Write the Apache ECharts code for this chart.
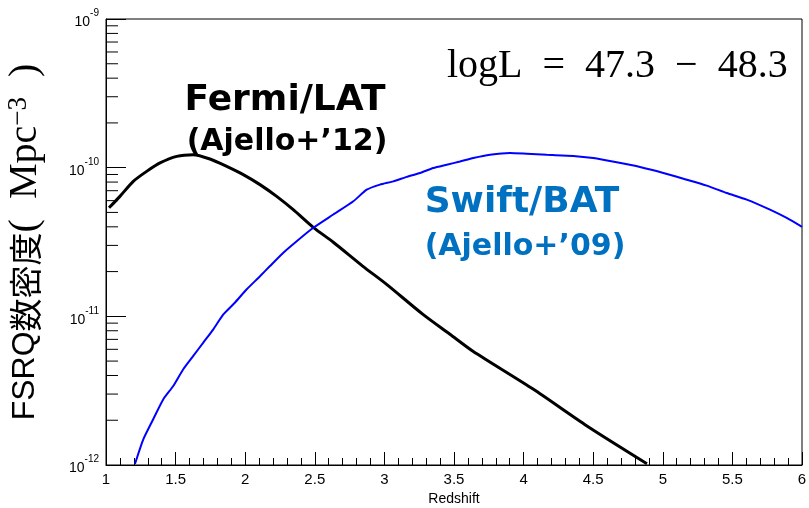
<!DOCTYPE html>
<html>
<head>
<meta charset="utf-8">
<script src="https://cdn.jsdelivr.net/npm/echarts@6/dist/echarts.min.js"></script>
<style>html,body{margin:0;padding:0;background:#fff;}#c{width:809px;height:508px;}</style>
</head>
<body>
<div id="c"></div>
<script>
// ---- data ----
const fermiZ = [1.022, 1.100, 1.196, 1.292, 1.388, 1.508, 1.626, 1.747, 1.867, 1.986, 2.106, 2.226, 2.345, 2.489, 2.633, 2.846, 3.016, 3.277, 3.471, 3.636, 4.068, 4.455, 4.886];
const fermiDensity = [5.37e-11, 6.41e-11, 8.09e-11, 9.44e-11, 1.076e-10, 1.191e-10, 1.222e-10, 1.143e-10, 1.020e-10, 8.98e-11, 7.69e-11, 6.41e-11, 5.22e-11, 3.97e-11, 3.15e-11, 2.17e-11, 1.64e-11, 1.03e-11, 7.57e-12, 5.82e-12, 3.24e-12, 1.83e-12, 1.02e-12];
const swiftZ = [1.208, 1.268, 1.340, 1.412, 1.483, 1.555, 1.627, 1.699, 1.771, 1.843, 1.927, 2.011, 2.106, 2.178, 2.274, 2.370, 2.489, 2.633, 2.777, 2.873, 2.968, 3.064, 3.160, 3.256, 3.351, 3.448, 3.543, 3.639, 3.759, 3.902, 4.022, 4.166, 4.357, 4.501, 4.669, 4.836, 5.004, 5.172, 5.316, 5.459, 5.603, 5.770, 5.890, 6.0];
const swiftDensity = [1.016e-12, 1.49e-12, 2.04e-12, 2.77e-12, 3.40e-12, 4.41e-12, 5.42e-12, 6.66e-12, 8.18e-12, 1.03e-11, 1.24e-11, 1.52e-11, 1.86e-11, 2.18e-11, 2.68e-11, 3.20e-11, 3.94e-11, 4.84e-11, 5.94e-11, 7.11e-11, 7.69e-11, 8.09e-11, 8.67e-11, 9.21e-11, 9.95e-11, 1.047e-10, 1.10e-10, 1.16e-10, 1.22e-10, 1.255e-10, 1.24e-10, 1.22e-10, 1.20e-10, 1.16e-10, 1.086e-10, 1.01e-10, 9.21e-11, 8.30e-11, 7.57e-11, 6.76e-11, 6.10e-11, 5.22e-11, 4.59e-11, 4.0e-11];
const xTickLabels = ['1', '1.5', '2', '2.5', '3', '3.5', '4', '4.5', '5', '5.5', '6'];
const yMinorTicks = [2e-12, 3e-12, 4e-12, 5e-12, 6e-12, 7e-12, 8e-12, 9e-12,
                     2e-11, 3e-11, 4e-11, 5e-11, 6e-11, 7e-11, 8e-11, 9e-11,
                     2e-10, 3e-10, 4e-10, 5e-10, 6e-10, 7e-10, 8e-10, 9e-10];
const xMin = 1, xMax = 6, yMin = 1e-12, yMax = 1e-9;

const chart = echarts.init(document.getElementById('c'), null, {renderer: 'canvas'});
const zip = (a, b) => a.map((v, i) => [v, b[i]]);

const option = {
  animation: false,
  backgroundColor: '#fff',
  grid: {left: 106, right: 7, top: 19, bottom: 43, show: true, borderColor: '#000', borderWidth: 1,
         containLabel: false, outerBoundsMode: 'none'},
  xAxis: {
    type: 'value', min: xMin, max: xMax, interval: 0.5,
    name: 'Redshift', nameLocation: 'middle', nameGap: 25,
    nameTextStyle: {fontFamily: 'Liberation Sans', fontSize: 14, color: '#000'},
    axisLine: {lineStyle: {color: '#000', width: 1}},
    axisTick: {inside: true, length: 13, lineStyle: {color: '#000'}},
    minorTick: {show: true, splitNumber: 5, length: 7, lineStyle: {color: '#000'}},
    splitLine: {show: false},
    axisLabel: {
      margin: 7, fontFamily: 'Liberation Sans', fontSize: 15, color: '#000',
      formatter: v => { const i = Math.round((v - xMin) / 0.5); return xTickLabels[i] !== undefined ? xTickLabels[i] : ''; }
    }
  },
  yAxis: {
    type: 'log', logBase: 10, min: yMin, max: yMax, interval: 1,
    name: '{a|FSRQ}{c|数密度}{m|(  Mpc}{s|−3}{m|  )}',
    nameLocation: 'middle', nameRotate: 90, nameGap: 60,
    nameTextStyle: {
      color: '#000',
      rich: {
        a: {fontFamily: 'Liberation Sans', fontSize: 32, color: '#000'},
        c: {fontFamily: 'Noto Sans CJK JP', fontSize: 33, color: '#000'},
        m: {fontFamily: 'Liberation Serif', fontSize: 40, color: '#000'},
        s: {fontFamily: 'Liberation Serif', fontSize: 27, color: '#000', verticalAlign: 'top', padding: [0, 0, 14, 0]}
      }
    },
    axisLine: {show: true, lineStyle: {color: '#000', width: 1}},
    axisTick: {show: true, inside: true, length: 20, lineStyle: {color: '#000'}},
    splitLine: {show: false},
    axisLabel: {
      margin: 7, color: '#000',
      formatter: v => '{b|10}{s|' + Math.round(Math.log10(v)) + '}',
      rich: {
        b: {fontFamily: 'Liberation Sans', fontSize: 14, color: '#000', padding: [7, 0, 0, 0]},
        s: {fontFamily: 'Liberation Sans', fontSize: 10, color: '#000', verticalAlign: 'top'}
      }
    }
  },
  series: [
    {
      type: 'line', name: 'Fermi/LAT', data: zip(fermiZ, fermiDensity),
      showSymbol: false, smooth: 0.25, clip: true,
      lineStyle: {color: '#000', width: 3}
    },
    {
      type: 'line', name: 'Swift/BAT', data: zip(swiftZ, swiftDensity),
      showSymbol: false, smooth: 0.2, clip: true,
      lineStyle: {color: '#0000ff', width: 2}
    },
    {
      type: 'custom', name: 'yMinor', silent: true,
      data: yMinorTicks.map(v => [xMin, v]),
      renderItem: (params, api) => {
        const p = api.coord([api.value(0), api.value(1)]);
        return {type: 'line', shape: {x1: p[0], y1: p[1], x2: p[0] + 12, y2: p[1]}, style: {stroke: '#000', lineWidth: 1}};
      }
    }
  ],
  graphic: [
    {type: 'text', left: 447, top: 46, style: {
      text: '{t|logL}{t|  =  }{t|47.3}{t|  −  }{t|48.3}',
      rich: {t: {fontFamily: 'Liberation Serif', fontSize: 40, fill: '#000'}}
    }},
    {type: 'text', style: {x: 285, y: 101, text: 'Fermi/LAT', align: 'center', verticalAlign: 'middle',
      font: 'bold 36px "DejaVu Sans"', fill: '#000'}},
    {type: 'text', style: {x: 287, y: 142, text: '(Ajello+’12)', align: 'center', verticalAlign: 'middle',
      font: 'bold 30px "DejaVu Sans"', fill: '#000'}},
    {type: 'text', style: {x: 522, y: 203, text: 'Swift/BAT', align: 'center', verticalAlign: 'middle',
      font: 'bold 36px "DejaVu Sans"', fill: '#0070c0'}},
    {type: 'text', style: {x: 525, y: 247, text: '(Ajello+’09)', align: 'center', verticalAlign: 'middle',
      font: 'bold 30px "DejaVu Sans"', fill: '#0070c0'}}
  ]
};
chart.setOption(option);
</script>
</body>
</html>
